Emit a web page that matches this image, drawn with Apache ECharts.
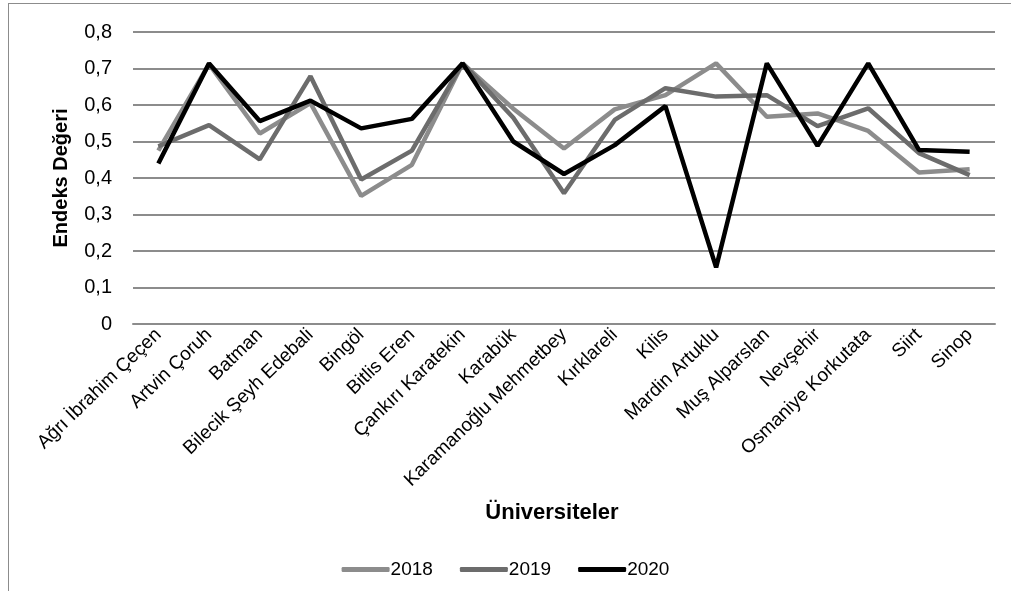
<!DOCTYPE html>
<html>
<head>
<meta charset="utf-8">
<script src="https://cdn.jsdelivr.net/npm/echarts@6/dist/echarts.min.js"></script>
<style>
  html, body { margin: 0; padding: 0; background: #fff; }
  #frame {
    position: absolute; left: 8px; top: 3px; width: 1010px; height: 600px;
    border: 1.5px solid #8c8c8c; box-sizing: border-box;
  }
  #chart { position: absolute; left: 0; top: 0; width: 1011px; height: 591px; }
</style>
</head>
<body>
<div id="frame"></div>
<div id="chart"></div>
<script>
// üniversiteler
var universities = [
  'Ağrı İbrahim Çeçen', 'Artvin Çoruh', 'Batman', 'Bilecik Şeyh Edebali', 'Bingöl',
  'Bitlis Eren', 'Çankırı Karatekin', 'Karabük', 'Karamanoğlu Mehmetbey', 'Kırklareli',
  'Kilis', 'Mardin Artuklu', 'Muş Alparslan', 'Nevşehir', 'Osmaniye Korkutata',
  'Siirt', 'Sinop'
];
var years = ['2018', '2019', '2020'];
// endeks değerleri
var values2018 = [0.475, 0.712, 0.522, 0.605, 0.351, 0.436, 0.714, 0.59, 0.481, 0.588, 0.627, 0.714, 0.568, 0.577, 0.529, 0.415, 0.424];
var values2019 = [0.487, 0.545, 0.451, 0.679, 0.396, 0.475, 0.714, 0.565, 0.358, 0.559, 0.646, 0.623, 0.627, 0.542, 0.591, 0.468, 0.408];
var values2020 = [0.44, 0.714, 0.556, 0.612, 0.536, 0.562, 0.714, 0.5, 0.411, 0.49, 0.597, 0.155, 0.714, 0.488, 0.714, 0.477, 0.472];

var colors = ['#8c8c8c', '#6c6c6c', '#000000'];
var font = 'Arial, "Liberation Sans", sans-serif';

var chart = echarts.init(document.getElementById('chart'));

function makeSeries(name, data, color) {
  return {
    name: name,
    type: 'line',
    data: data,
    symbol: 'none',
    lineStyle: { color: color, width: 4.5 },
    itemStyle: { color: color },
    animation: false
  };
}

chart.setOption({
  animation: false,
  grid: { left: 133, right: 16, top: 32, bottom: 267 },
  legend: {
    data: years,
    top: 555,
    left: 'center',
    icon: 'roundRect',
    itemWidth: 48,
    itemHeight: 5,
    itemGap: 27,
    textStyle: { fontFamily: font, fontSize: 19, color: '#000', padding: [0, 0, 0, -4] }
  },
  xAxis: {
    type: 'category',
    data: universities,
    boundaryGap: true,
    name: 'Üniversiteler',
    nameLocation: 'middle',
    nameGap: 178,
    nameTextStyle: { fontFamily: font, fontSize: 22, fontWeight: 'bold', color: '#000', padding: [0, 24, 0, 0] },
    axisLine: { lineStyle: { color: '#8c8c8c', width: 2 } },
    axisTick: { show: false },
    axisLabel: {
      interval: 0,
      rotate: 44,
      margin: 8,
      fontFamily: font,
      fontSize: 19,
      color: '#000'
    }
  },
  yAxis: {
    type: 'value',
    min: 0,
    max: 0.8,
    interval: 0.1,
    name: 'Endeks Değeri',
    nameLocation: 'middle',
    nameGap: 62,
    nameTextStyle: { fontFamily: font, fontSize: 20, fontWeight: 'bold', color: '#000' },
    axisLine: { show: false },
    axisTick: { show: false },
    axisLabel: {
      margin: 21,
      fontFamily: font,
      fontSize: 20,
      color: '#000',
      formatter: function (v) { return v === 0 ? '0' : v.toFixed(1).replace('.', ','); }
    },
    splitLine: { lineStyle: { color: '#8c8c8c', width: 2 } }
  },
  series: [
    makeSeries(years[0], values2018, colors[0]),
    makeSeries(years[1], values2019, colors[1]),
    makeSeries(years[2], values2020, colors[2])
  ]
});
</script>
</body>
</html>
